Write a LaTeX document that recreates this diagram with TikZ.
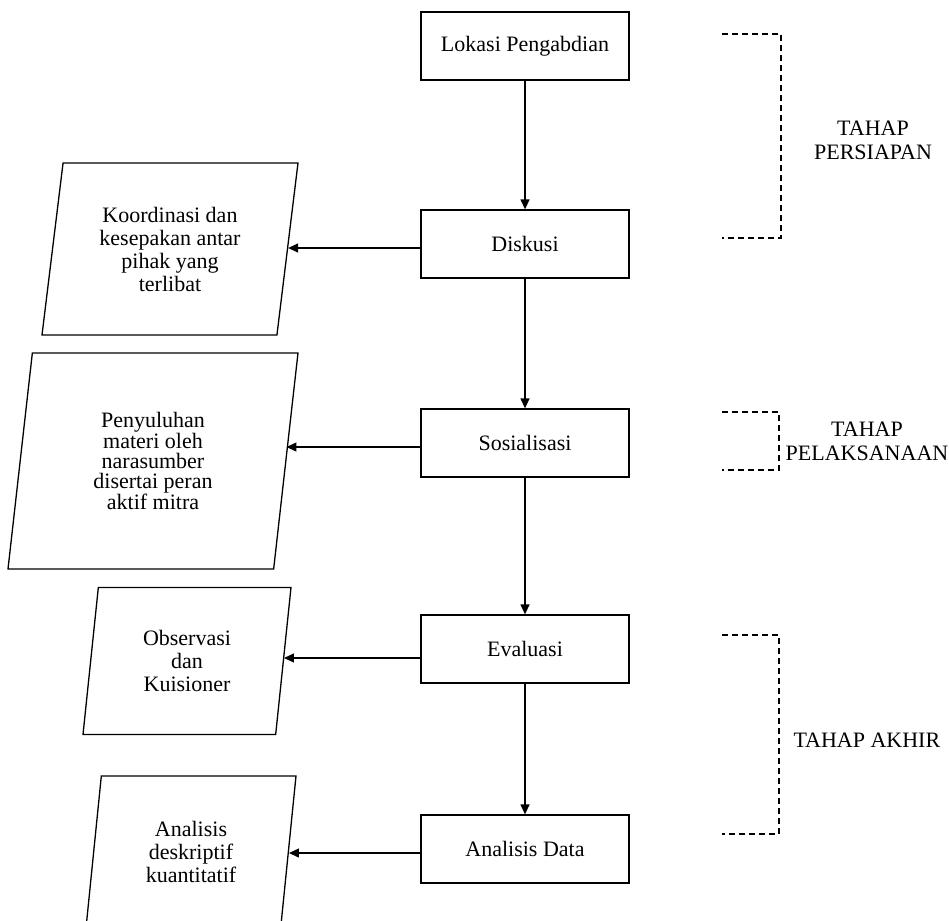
\documentclass[tikz,border=0pt]{standalone}
\usepackage{fontspec}
\setmainfont{Liberation Serif}
\usetikzlibrary{shapes.geometric,arrows.meta}

\tikzset{
  proses/.style={draw,line width=1.3pt,minimum width=208pt,minimum height=68pt,
    font=\fontsize{22}{23}\selectfont},
  data/.style={draw,line width=1.3pt,shape=trapezium,trapezium left angle=76,
    trapezium right angle=104,trapezium stretches body,align=center,inner sep=0pt,
    font=\fontsize{22}{23}\selectfont},
  panah/.style={line width=1.3pt,-{Triangle[length=10pt,width=9pt]}},
  kurung/.style={line width=1.2pt,dash pattern=on 6pt off 4pt},
  tahap/.style={align=center,font=\fontsize{22}{24}\selectfont}
}

\begin{document}
\begin{tikzpicture}[x=1pt,y=-1pt]
\useasboundingbox (0,0) rectangle (949,920);
% proses utama
\node[proses] (lok) at (525,46) {Lokasi Pengabdian};
\node[proses] (dis) at (525,244) {Diskusi};
\node[proses] (sos) at (525,443) {Sosialisasi};
\node[proses] (eva) at (525,649) {Evaluasi};
\node[proses] (ana) at (525,849) {Analisis Data};
\draw[panah] (lok) -- (dis); \draw[panah] (dis) -- (sos);
\draw[panah] (sos) -- (eva); \draw[panah] (eva) -- (ana);
% keluaran
\node[data,minimum width=256pt,minimum height=172pt] (koor) at (170,249)
  {Koordinasi dan\\kesepakan antar\\pihak yang\\terlibat};
\node[data,minimum width=290pt,minimum height=216pt,font=\fontsize{22}{20}\selectfont] (peny) at (153,461)
  {Penyuluhan\\materi oleh\\narasumber\\disertai peran\\aktif mitra};
\node[data,minimum width=208pt,minimum height=147pt] (obs) at (187,661)
  {Observasi\\dan\\Kuisioner};
\node[data,minimum width=210pt,minimum height=152pt] (desk) at (191,852)
  {Analisis\\deskriptif\\kuantitatif};
\draw[panah] ([yshift=-4pt]dis.west) -- ([yshift=-4pt]dis.west -| koor.right side);
\draw[panah] ([yshift=-4pt]sos.west) -- ([yshift=-4pt]sos.west -| peny.right side);
\draw[panah] ([yshift=-9pt]eva.west) -- ([yshift=-9pt]eva.west -| obs.right side);
\draw[panah] ([yshift=-4pt]ana.west) -- ([yshift=-4pt]ana.west -| desk.right side);
% tahap
\draw[kurung] (722,34) -- (781,34) -- (781,238) -- (722,238);
\draw[kurung] (722,412) -- (779,412) -- (779,470) -- (722,470);
\draw[kurung] (722,635) -- (779,635) -- (779,834) -- (722,834);
\node[tahap] (persiapan) at (873,140) {TAHAP\\PERSIAPAN};
\node[tahap] (pelaksanaan) at (867,441) {TAHAP\\PELAKSANAAN};
\node[tahap,anchor=west] (akhir) at (790,740) {TAHAP AKHIR};
\end{tikzpicture}
\end{document}
